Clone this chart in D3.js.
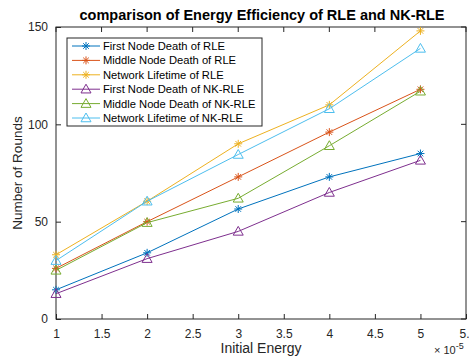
<!DOCTYPE html>
<html>
<head>
<meta charset="utf-8">
<script src="https://cdn.jsdelivr.net/npm/d3@7"></script>
<style>
  body { margin: 0; background: #fff; }
  svg { font-family: Arial, "Liberation Sans", sans-serif; }
</style>
</head>
<body>
<div id="chart"></div>
<script>
const energy = [1, 2, 3, 4, 5];
const seriesNames = [
  "First Node Death of RLE",
  "Middle Node Death of RLE",
  "Network Lifetime of RLE",
  "First Node Death of NK-RLE",
  "Middle Node Death of NK-RLE",
  "Network Lifetime of NK-RLE"
];
const firstRLE = [15, 34, 56.5, 73, 85];
const middleRLE = [26, 50, 73, 96, 118];
const lifeRLE = [33, 60.5, 90, 110, 148];
const firstNK = [13, 31, 45, 65, 81.5];
const middleNK = [25, 49.5, 62, 89, 117];
const lifeNK = [30, 60.5, 84.5, 108, 139];
const xTicks = [1, 1.5, 2, 2.5, 3, 3.5, 4, 4.5, 5, 5.5];
const yTicks = [0, 50, 100, 150];

const colors = ["#0072BD", "#D95319", "#EDB120", "#7E2F8E", "#77AC30", "#4DBEEE"];
const markers = ["star", "star", "star", "tri", "tri", "tri"];
const allValues = [firstRLE, middleRLE, lifeRLE, firstNK, middleNK, lifeNK];

const width = 469, height = 356;
const margin = { left: 56, right: 2, top: 27, bottom: 37 };

const svg = d3.select("#chart").append("svg")
  .attr("width", width).attr("height", height);

const xScale = d3.scaleLinear().domain([1, 5.5]).range([margin.left, width - margin.right - 1]);
const yScale = d3.scaleLinear().domain([0, 150]).range([height - margin.bottom, margin.top]);

const x0 = xScale.range()[0], x1 = xScale.range()[1];
const y0 = yScale.range()[0], y1 = yScale.range()[1];

// axes
const xAxis = d3.axisBottom(xScale).tickValues(xTicks).tickSize(-5).tickPadding(10)
  .tickFormat(d => d === 5.5 ? "5." : d3.format("")(d));
const yAxis = d3.axisLeft(yScale).tickValues(yTicks).tickSize(-5).tickPadding(8);

const xg = svg.append("g").attr("transform", `translate(0,${y0})`).call(xAxis);
const yg = svg.append("g").attr("transform", `translate(${x0},0)`).call(yAxis);
[xg, yg].forEach(g => {
  g.select(".domain").remove();
  g.selectAll(".tick line").attr("stroke", "#262626");
  g.selectAll(".tick text").attr("fill", "#262626").style("font-size", "12px");
});
// last x label sits at the figure edge in the original
xg.selectAll(".tick text").filter(d => d === 5.5).attr("text-anchor", "end").attr("dx", "0.25em");

// top and right ticks
svg.append("g").selectAll("line").data(xTicks).enter().append("line")
  .attr("x1", d => xScale(d)).attr("x2", d => xScale(d))
  .attr("y1", y1).attr("y2", y1 + 5).attr("stroke", "#262626");
svg.append("g").selectAll("line").data(yTicks).enter().append("line")
  .attr("x1", x1).attr("x2", x1 - 5)
  .attr("y1", d => yScale(d)).attr("y2", d => yScale(d)).attr("stroke", "#262626");

svg.append("rect")
  .attr("x", x0).attr("y", y1).attr("width", x1 - x0).attr("height", y0 - y1)
  .attr("fill", "none").attr("stroke", "#262626").attr("stroke-width", 1);

// labels
svg.append("text").attr("x", 262).attr("y", 20).attr("text-anchor", "middle")
  .style("font-size", "14.5px").style("font-weight", "bold").attr("fill", "#000")
  .text("comparison of Energy Efficiency of RLE and NK-RLE");
svg.append("text").attr("x", 261).attr("y", 353).attr("text-anchor", "middle")
  .style("font-size", "14px").attr("fill", "#262626").text("Initial Energy");
svg.append("text").attr("transform", `translate(22,${(y0 + y1) / 2}) rotate(-90)`)
  .attr("text-anchor", "middle").style("font-size", "13.5px").attr("fill", "#262626")
  .text("Number of Rounds");
const exp = svg.append("text").attr("x", 434).attr("y", 354).attr("fill", "#262626")
  .style("font-size", "11px");
exp.append("tspan").text("\u00d7 10");
exp.append("tspan").attr("dy", -5).style("font-size", "9px").text("-5");

function drawMarker(g, type, cx, cy, color) {
  if (type === "star") {
    const r = 4;
    const p = g.append("g").attr("stroke", color).attr("stroke-width", 1);
    p.append("line").attr("x1", cx - r).attr("x2", cx + r).attr("y1", cy).attr("y2", cy);
    p.append("line").attr("x1", cx).attr("x2", cx).attr("y1", cy - r).attr("y2", cy + r);
    p.append("line").attr("x1", cx - r * 0.7).attr("x2", cx + r * 0.7).attr("y1", cy - r * 0.7).attr("y2", cy + r * 0.7);
    p.append("line").attr("x1", cx - r * 0.7).attr("x2", cx + r * 0.7).attr("y1", cy + r * 0.7).attr("y2", cy - r * 0.7);
  } else {
    const r = 5;
    g.append("path")
      .attr("d", `M${cx},${cy - r}L${cx + r},${cy + r * 0.75}L${cx - r},${cy + r * 0.75}Z`)
      .attr("fill", "none").attr("stroke", color).attr("stroke-width", 1);
  }
}

const line = d3.line().x((d, i) => xScale(energy[i])).y(d => yScale(d));

allValues.forEach((vals, k) => {
  const g = svg.append("g");
  g.append("path").attr("d", line(vals)).attr("fill", "none")
    .attr("stroke", colors[k]).attr("stroke-width", 1);
  vals.forEach((v, i) => drawMarker(g, markers[k], xScale(energy[i]), yScale(v), colors[k]));
});

// legend
const lg = svg.append("g").attr("transform", "translate(67,38)");
lg.append("rect").attr("x", 0).attr("y", 0).attr("width", 195).attr("height", 88)
  .attr("fill", "#fff").attr("stroke", "#262626").attr("stroke-width", 1);
seriesNames.forEach((name, k) => {
  const yy = 8 + k * 14.4;
  lg.append("line").attr("x1", 5).attr("x2", 33).attr("y1", yy).attr("y2", yy)
    .attr("stroke", colors[k]).attr("stroke-width", 1);
  drawMarker(lg, markers[k], 19, yy, colors[k]);
  lg.append("text").attr("x", 36).attr("y", yy + 4).style("font-size", "11.2px")
    .attr("fill", "#000").text(name);
});
</script>
</body>
</html>
